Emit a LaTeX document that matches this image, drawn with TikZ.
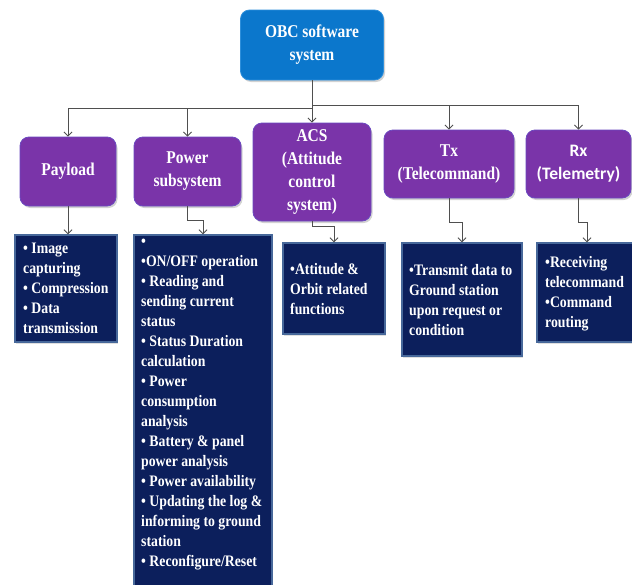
\documentclass[tikz,border=0pt]{standalone}
\usepackage{fontspec}
\setmainfont{Liberation Serif}[FakeStretch=0.86]
\newfontfamily\rxfont{Carlito}
\usetikzlibrary{arrows.meta,shadows}
\definecolor{obcblue}{HTML}{0B77CC}
\definecolor{obcedge}{HTML}{2E8FDB}
\definecolor{purp}{HTML}{7A34A9}
\definecolor{purpedge}{HTML}{6B48C0}
\definecolor{navy}{HTML}{0C1F5C}
\definecolor{navyedge}{HTML}{47689A}
\definecolor{conncol}{HTML}{4F4F4F}
\begin{document}
\begin{tikzpicture}[x=1pt,y=-1pt,
  topbox/.style={draw=obcedge,fill=obcblue,rounded corners=9pt,line width=0.8pt,
    drop shadow={opacity=0.35,shadow xshift=1.5pt,shadow yshift=-2pt},
    text=white,align=center,font=\bfseries\fontsize{18}{23}\selectfont,inner sep=0pt},
  subbox/.style={draw=purpedge,fill=purp,rounded corners=9pt,line width=0.8pt,
    drop shadow={opacity=0.35,shadow xshift=1.5pt,shadow yshift=-2pt},
    text=white,align=center,font=\bfseries\fontsize{18}{23}\selectfont,inner sep=0pt},
  detbox/.style={draw=navyedge,fill=navy,line width=1.3pt,inner sep=0pt,
    drop shadow={opacity=0.25,shadow xshift=1pt,shadow yshift=-1.5pt}},
  dettext/.style={anchor=north west,text=white,align=left,inner sep=0pt,
    font=\bfseries\fontsize{16}{20}\selectfont},
  conn/.style={draw=conncol,line width=0.9pt,-{Straight Barb[length=4pt,width=8pt]}}
]
\useasboundingbox[fill=white] (0,0) rectangle (632,584);

% top level
\node[topbox,minimum width=143pt,minimum height=70pt] (obc) at (312,45) {OBC software\\system};

% second level
\node[subbox,minimum width=96pt,minimum height=69pt] (payload) at (68,171.5) {Payload};
\node[subbox,minimum width=107pt,minimum height=69pt] (power) at (187.5,171.5) {Power\\subsystem};
\node[subbox,minimum width=118pt,minimum height=98pt] (acs) at (312,172) {ACS\\(Attitude\\control\\system)};
\node[subbox,minimum width=130pt,minimum height=68pt] (tx) at (449,164) {Tx\\(Telecommand)};
\node[subbox,minimum width=105pt,minimum height=68pt,font=\rxfont\bfseries\fontsize{17.5}{23}\selectfont] (rx) at (578.5,164) {Rx\\(Telemetry)};

% detail boxes
\node[detbox,minimum width=102pt,minimum height=107pt] (paydet) at (66,288.5) {};
\node[detbox,minimum width=138pt,minimum height=360pt] (powdet) at (203,415) {};
\node[detbox,minimum width=102pt,minimum height=91pt] (acsdet) at (334,288.5) {};
\node[detbox,minimum width=120pt,minimum height=113pt] (txdet) at (462,299.5) {};
\node[detbox,minimum width=100pt,minimum height=99pt] (rxdet) at (587,292.5) {};

\node[dettext] (paytxt) at (23,242.5) {\textbullet\ Image\\capturing\\\textbullet\ Compression\\\textbullet\ Data\\transmission};
\node[dettext] (powtxt) at (141,239) {\textbullet\\\textbullet ON/OFF operation\\\textbullet\ Reading and\\sending current\\status\\\textbullet\ Status Duration\\calculation\\\textbullet\ Power\\consumption\\analysis\\\textbullet\ Battery \& panel\\power analysis\\\textbullet\ Power availability\\\textbullet\ Updating the log \&\\informing to ground\\station\\\textbullet\ Reconfigure/Reset};
\node[dettext] (acstxt) at (290,263.5) {\textbullet Attitude \&\\Orbit related\\functions};
\node[dettext] (txtxt) at (409,264.5) {\textbullet Transmit data to\\Ground station\\upon request or\\condition};
\node[dettext] (rxtxt) at (545,256.5) {\textbullet Receiving\\telecommand\\\textbullet Command\\routing};

% connectors from top
\draw[conn] (obc.south) -- ++(0,28) -| (payload.north);
\draw[conn] (obc.south) -- ++(0,28) -| (power.north);
\draw[conn] (obc.south) -- (obc.south |- acs.north);
\draw[conn] (obc.south) -- ++(0,25) -| (tx.north);
\draw[conn] (obc.south) -- ++(0,25) -| (rx.north);

% connectors to details
\draw[conn] (payload.south) -- (payload.south |- paydet.north);
\draw[conn] (power.south) -- ++(0,14) -| (powdet.north);
\draw[conn] (acs.south) -- ++(0,5) -| (acsdet.north);
\draw[conn] (tx.south) -- ++(0,24) -| (txdet.north);
\draw[conn] (rx.south) -- ++(0,24) -| (rxdet.north);
\end{tikzpicture}
\end{document}
